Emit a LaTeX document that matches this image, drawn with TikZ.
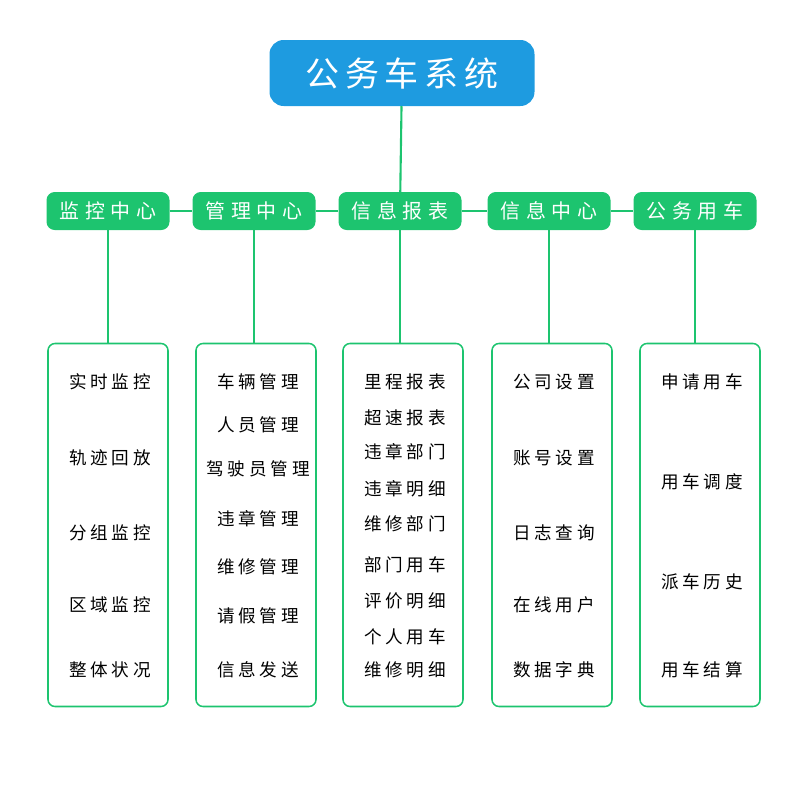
\documentclass[tikz,border=0pt]{standalone}
\usepackage{fontspec}
\setmainfont{Noto Sans CJK SC}
\usetikzlibrary{positioning}
\definecolor{topblue}{HTML}{1E9BE0}
\definecolor{okgreen}{HTML}{1DC46F}
\newfontfamily\wideA[LetterSpace=17]{Noto Sans CJK SC}
\newfontfamily\wideB[LetterSpace=28]{Noto Sans CJK SC}
\newfontfamily\wideC[LetterSpace=22]{Noto Sans CJK SC}

\begin{document}
\begin{tikzpicture}[x=0.03cm,y=-0.03cm,
    title/.style={fill=topblue,rounded corners=12pt,text=white,minimum width=265*0.03cm,minimum height=66*0.03cm,font=\wideA\fontsize{29}{29}\selectfont},
    center/.style={fill=okgreen,rounded corners=7pt,text=white,inner xsep=0pt,minimum width=123*0.03cm,minimum height=38*0.03cm,font=\wideB\fontsize{17}{17}\selectfont},
    box/.style={draw=okgreen,line width=1.3pt,rounded corners=6pt,minimum width=120*0.03cm,minimum height=363*0.03cm},
    item/.style={inner xsep=0pt,font=\wideC\fontsize{15}{15}\selectfont},
    link/.style={draw=okgreen,line width=1.8pt}]
      \useasboundingbox (0,0) rectangle (800,800);
      \node[title]  (top) at (402,73)  {公务车系统};

      \node[center] (m1)  at (108,211) {监控中心};
      \node[center] (m2)  at (254,211) {管理中心};
      \node[center] (m3)  at (400,211) {信息报表};
      \node[center] (m4)  at (549,211) {信息中心};
      \node[center] (m5)  at (695,211) {公务用车};

      \node[box]    (b1)  at (108,525) {};
      \node[box]    (b2)  at (256,525) {};
      \node[box]    (b3)  at (403,525) {};
      \node[box]    (b4)  at (552,525) {};
      \node[box]    (b5)  at (700,525) {};

      \path[link] (top) -- (m3);
      \path[link] (m1) -- (m2);
      \path[link] (m2) -- (m3);
      \path[link] (m3) -- (m4);
      \path[link] (m4) -- (m5);
      \path[link] (m1) -- (m1 |- b1.north);
      \path[link] (m2) -- (m2 |- b2.north);
      \path[link] (m3) -- (m3 |- b3.north);
      \path[link] (m4) -- (m4 |- b4.north);
      \path[link] (m5) -- (m5 |- b5.north);

      \foreach \y/\t [count=\i] in {382/实时监控,458/轨迹回放,533/分组监控,605/区域监控,670/整体状况}
        \node[item] (a\i) at (110,\y) {\t};
      \foreach \y/\t [count=\i] in {382/车辆管理,425/人员管理,469/驾驶员管理,519/违章管理,567/维修管理,616/请假管理,670/信息发送}
        \node[item] (g\i) at (258,\y) {\t};
      \foreach \y/\t [count=\i] in {382/里程报表,418/超速报表,452/违章部门,489/违章明细,524/维修部门,565/部门用车,601/评价明细,637/个人用车,670/维修明细}
        \node[item] (r\i) at (405,\y) {\t};
      \foreach \y/\t [count=\i] in {382/公司设置,458/账号设置,533/日志查询,605/在线用户,670/数据字典}
        \node[item] (s\i) at (554,\y) {\t};
      \foreach \y/\t [count=\i] in {382/申请用车,482/用车调度,582/派车历史,670/用车结算}
        \node[item] (u\i) at (702,\y) {\t};
\end{tikzpicture}
\end{document}
